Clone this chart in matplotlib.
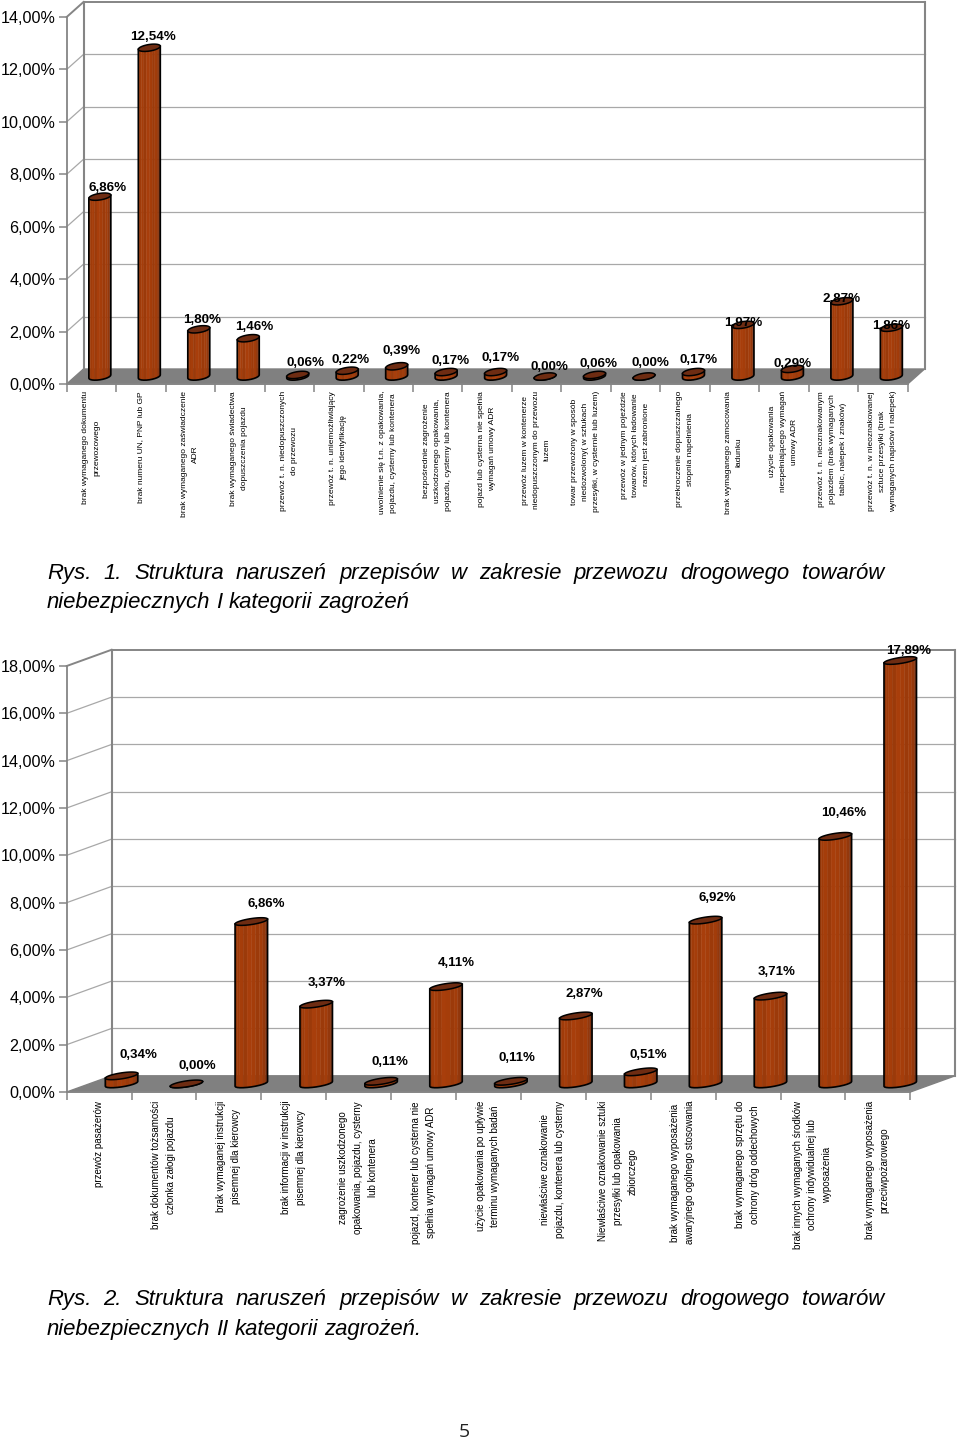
import numpy as np
import matplotlib
matplotlib.use('Agg')
import matplotlib.pyplot as plt
from matplotlib.ticker import FuncFormatter

plt.rcParams['font.family'] = ['Liberation Sans', 'DejaVu Sans']

W, H = 960, 1438

# dane - rysunek 1
kat1 = ["brak wymaganego dokumentu\nprzewozowego",
        "brak numeru UN, PNP lub GP",
        "brak wymaganego zaświadczenie\nADR",
        "brak wymaganego świadectwa\ndopuszczenia pojazdu",
        "przewóz t. n. niedopuszczonych\ndo przewozu",
        "przewóz t. n. uniemożliwiający\njego identyfikację",
        "uwolnienie się t.n. z opakowania,\npojazdu, cysterny lub kontenera",
        "bezpośrednie zagrożenie\nuszkodzonego opakowania,\npojazdu, cysterny lub kontenera",
        "pojazd lub cysterna nie spełnia\nwymagań umowy ADR",
        "przewóz luzem w kontenerze\nniedopuszczonym do przewozu\nluzem",
        "towar przewożony w sposób\nniedozwolony( w sztukach\nprzesyłki, w cysternie lub luzem)",
        "przewóz w jednym pojeździe\ntowarów, których ładowanie\nrazem jest zabronione",
        "przekroczenie dopuszczalnego\nstopnia napełnienia",
        "brak wymaganego zamocowania\nładunku",
        "użycie opakowania\nniespełniającego wymagań\numowy ADR",
        "przewóz t. n. nieoznakowanym\npojazdem (brak wymaganych\ntablic, nalepek i znaków)",
        "przewóz t. n. w nieoznakowanej\nsztuce przesyłki (brak\nwymaganych napisów i nalepek)"]
war1 = [6.86, 12.54, 1.80, 1.46, 0.06, 0.22, 0.39, 0.17, 0.17, 0.00, 0.06, 0.00, 0.17, 1.97, 0.29, 2.87, 1.86]

# dane - rysunek 2
kat2 = ["przewóz pasażerów",
        "brak dokumentów tożsamości\nczłonka załogi pojazdu",
        "brak wymaganej instrukcji\npisemnej dla kierowcy",
        "brak informacji w instrukcji\npisemnej dla kierowcy",
        "zagrożenie uszkodzonego\nopakowania, pojazdu, cysterny\nlub kontenera",
        "pojazd, kontener lub cysterna nie\nspełnia wymagań umowy ADR",
        "użycie opakowania po upływie\nterminu wymaganych badań",
        "niewłaściwe oznakowanie\npojazdu, kontenera lub cysterny",
        "Niewłaściwe oznakowanie sztuki\nprzesyłki lub opakowania\nzbiorczego",
        "brak wymaganego wyposażenia\nawaryjnego ogólnego stosowania",
        "brak wymaganego sprzętu do\nochrony dróg oddechowych",
        "brak innych wymaganych środków\nochrony indywidualnej lub\nwyposażenia",
        "brak wymaganego wyposażenia\nprzeciwpożarowego"]
war2 = [0.34, 0.00, 6.86, 3.37, 0.11, 4.11, 0.11, 2.87, 0.51, 6.92, 3.71, 10.46, 17.89]

# przesuniecia etykiet wartosci wzgledem wierzcholka slupka (piksele)
przes1 = [(8, 9), (4, 11), (3.5, 9.5), (6, 11), (7.5, 12), (3, 10.5), (4.5, 15), (4, 11), (5, 14),
          (4.5, 9.5), (3.5, 11), (6, 13.5), (5, 12), (0, 2), (0, 5), (0, 2), (0, 2)]
przes2 = [(16.5, 21), (11, 18), (15, 18), (10, 21), (9, 19), (10, 24), (6, 23), (9, 22), (7.5, 17),
          (11.6, 22), (5.7, 24), (8, 23), (8, 10)]

# kolory pasow na walcu, od lewej do prawej
pasy = ['#7a2f0c', '#8f3609', '#a03b09', '#a53d0a', '#9b3a0a', '#a83e0b',
        '#a53d0a', '#9c3a0a', '#a23c0a', '#94380c', '#7f3210', '#6c2c10']
GRID = '#a8a8a8'
RAMA = '#858585'
PODLOGA = '#808080'


def walec(ax, xs, y0, wart, sx, sy, a, b, t):
    # xs, y0 - srodek podstawy, a, b, t w pikselach (polosie i pochylenie elipsy)
    kat = np.linspace(np.pi, 2 * np.pi, len(pasy) + 1)
    dx = a * np.cos(kat) / sx
    dy = (b * np.sin(kat) + t * np.cos(kat)) / sy
    for k, kol in enumerate(pasy):
        px = [xs + dx[k], xs + dx[k + 1], xs + dx[k + 1], xs + dx[k]]
        py = [y0 + dy[k], y0 + dy[k + 1], y0 + wart + dy[k + 1], y0 + wart + dy[k]]
        ax.fill(px, py, color=kol, lw=0.3, clip_on=False, zorder=3)
    ax.plot(np.r_[xs + dx[0], xs + dx, xs + dx[-1]], np.r_[y0 + wart + dy[0], y0 + dy, y0 + wart + dy[-1]],
            color='black', lw=1.2, clip_on=False, zorder=4)
    # gorna elipsa
    kat = np.linspace(0, 2 * np.pi, 60)
    ax.fill(xs + a * np.cos(kat) / sx, y0 + wart + (b * np.sin(kat) + t * np.cos(kat)) / sy,
            facecolor='#6e2c12', edgecolor='black', lw=1.1, clip_on=False, zorder=5)


def wykres(prostokat, kategorie, wartosci, ymax, krok, glebia, szer, b, t, przes, fs_kat, fs_wart, odst, y_kat):
    l, r, top, bot = prostokat
    ax = fig.add_axes([l / W, 1 - bot / H, (r - l) / W, (bot - top) / H])
    n = len(wartosci)
    ax.set_xlim(0, n)
    ax.set_ylim(0, ymax)
    ax.patch.set_alpha(0)
    sx = (r - l) / n
    sy = (bot - top) / ymax
    gx = glebia[0] / sx
    gy = glebia[1] / sy

    # sciany i podloga
    ax.fill([0, n, n + gx, gx], [0, 0, gy, gy], color=PODLOGA, clip_on=False, zorder=1)
    ticks = np.arange(0, ymax + krok, krok)
    for v in ticks[1:]:
        gruby = v == ticks[-1]
        ax.plot([gx, n + gx], [v + gy, v + gy], color=RAMA if gruby else GRID, lw=1.4 if gruby else 0.9,
                clip_on=False, zorder=1)
        ax.plot([0, gx], [v, v + gy], color=RAMA if gruby else GRID, lw=1.4 if gruby else 0.9,
                clip_on=False, zorder=1)
    ax.plot([gx, gx], [gy, ymax + gy], color=RAMA, lw=1.5, clip_on=False, zorder=1)
    ax.plot([n + gx, n + gx], [gy, ymax + gy], color=RAMA, lw=1.5, clip_on=False, zorder=1)

    # osie
    for s in ['top', 'right']:
        ax.spines[s].set_visible(False)
    for s in ['left', 'bottom']:
        ax.spines[s].set_color(RAMA)
        ax.spines[s].set_linewidth(1.3)
    ax.set_xticks(np.arange(0, n + 1))
    ax.set_xticklabels([])
    ax.set_yticks(ticks)
    ax.yaxis.set_major_formatter(FuncFormatter(lambda v, p: f'{v:.2f}%'.replace('.', ',')))
    ax.tick_params(axis='both', color=RAMA, length=6, width=1.1)
    ax.tick_params(axis='y', labelsize=11.6, pad=2, colors='black')
    ax.tick_params(axis='y', color=RAMA)

    for i, v in enumerate(wartosci):
        xs = i + 0.5 + gx / 2
        y0 = gy / 2
        walec(ax, xs, y0, v, sx, sy, szer / 2, b, t)
        ax.annotate(f'{v:.2f}%'.replace('.', ','), (xs, y0 + v), xytext=przes[i], textcoords='offset pixels',
                    ha='center', va='center', fontsize=fs_wart, fontweight='bold', zorder=6,
                    annotation_clip=False)
        ax.annotate(kategorie[i], (i + 0.5, 0), xytext=(-0.5, -y_kat), textcoords='offset pixels',
                    rotation=90, ha='center', va='top', ma='center', fontsize=fs_kat, linespacing=odst,
                    annotation_clip=False)
    return ax


def podpis(y, slowa, szerokosc=None, x0=47, fs=15.9):
    # tekst justowany: slowa rozkladane rowno na szerokosc wiersza
    r = fig.canvas.get_renderer()
    tt = [fig.text(0, 1 - y / H, s, fontsize=fs, style='italic', va='baseline') for s in slowa]
    sz = [q.get_window_extent(r).width for q in tt]
    if szerokosc is None:
        odstep = fs * 100 / 72 * 0.278
    else:
        odstep = (szerokosc - sum(sz)) / (len(slowa) - 1)
    x = x0
    for q, s in zip(tt, sz):
        q.set_x(x / W)
        x += s + odstep


fig = plt.figure(figsize=(W / 100, H / 100), dpi=100)

wykres((66.7, 907.7, 17, 384), kat1, war1, 14, 2, (16.8, 15), 22, 3.3, 1.6, przes1, 6.05, 9.6, 1.8, 7)
wykres((66.7, 910.3, 666, 1092), kat2, war2, 18, 2, (44.8, 16.2), 32.5, 3, 2.4, przes2, 7.0, 9.5, 1.6, 9)

linia1 = "Rys. 1. Struktura naruszeń przepisów w zakresie przewozu drogowego towarów"
linia2 = "niebezpiecznych I kategorii zagrożeń"
linia3 = "Rys. 2. Struktura naruszeń przepisów w zakresie przewozu drogowego towarów"
linia4 = "niebezpiecznych II kategorii zagrożeń."
podpis(579, linia1.split(), 837)
podpis(608, linia2.split())
podpis(1305, linia3.split(), 837)
podpis(1335, linia4.split())

fig.text(464 / W, 1 - 1437 / H, '5', fontsize=14, family='Open Sans', ha='center', va='baseline', color='#222222')

fig.savefig('out.png', dpi=100)
